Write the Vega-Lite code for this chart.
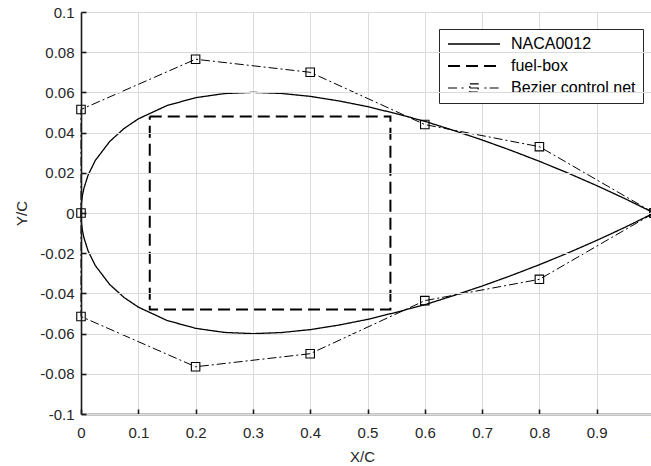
{
  "$schema": "https://vega.github.io/schema/vega-lite/v6.json",
  "autosize": {"type": "none"},
  "padding": {"left": 81, "top": 12, "right": 0, "bottom": 52},
  "width": 573,
  "height": 402,
  "background": "white",
  "config": {
    "view": {"stroke": null},
    "font": "Liberation Sans",
    "axis": {
      "labelFont": "Liberation Sans",
      "titleFont": "Liberation Sans",
      "labelFontSize": 15,
      "titleFontSize": 15,
      "titleFontWeight": "normal",
      "labelColor": "#262626",
      "titleColor": "#262626",
      "domainColor": "#1a1a1a",
      "tickColor": "#1a1a1a",
      "gridColor": "#dbdbdb",
      "gridWidth": 1,
      "domainWidth": 1.6,
      "tickWidth": 1.6,
      "tickSize": -5,
      "labelPadding": 12,
      "labelFlush": false
    },
    "legend": {"labelFont": "Liberation Sans"}
  },
  "data": {
    "values": [
      {"s": "NACA0012", "i": 0, "x": 1.0, "y": 0.0},
      {"s": "NACA0012", "i": 1, "x": 0.95, "y": 0.00704},
      {"s": "NACA0012", "i": 2, "x": 0.9, "y": 0.01364},
      {"s": "NACA0012", "i": 3, "x": 0.85, "y": 0.01987},
      {"s": "NACA0012", "i": 4, "x": 0.8, "y": 0.02572},
      {"s": "NACA0012", "i": 5, "x": 0.75, "y": 0.0312},
      {"s": "NACA0012", "i": 6, "x": 0.7, "y": 0.03634},
      {"s": "NACA0012", "i": 7, "x": 0.65, "y": 0.04111},
      {"s": "NACA0012", "i": 8, "x": 0.6, "y": 0.04563},
      {"s": "NACA0012", "i": 9, "x": 0.55, "y": 0.04941},
      {"s": "NACA0012", "i": 10, "x": 0.5, "y": 0.05294},
      {"s": "NACA0012", "i": 11, "x": 0.45, "y": 0.05576},
      {"s": "NACA0012", "i": 12, "x": 0.4, "y": 0.05803},
      {"s": "NACA0012", "i": 13, "x": 0.35, "y": 0.05947},
      {"s": "NACA0012", "i": 14, "x": 0.3, "y": 0.06002},
      {"s": "NACA0012", "i": 15, "x": 0.25, "y": 0.05941},
      {"s": "NACA0012", "i": 16, "x": 0.2, "y": 0.05737},
      {"s": "NACA0012", "i": 17, "x": 0.15, "y": 0.05345},
      {"s": "NACA0012", "i": 18, "x": 0.1, "y": 0.04683},
      {"s": "NACA0012", "i": 19, "x": 0.075, "y": 0.042},
      {"s": "NACA0012", "i": 20, "x": 0.05, "y": 0.03555},
      {"s": "NACA0012", "i": 21, "x": 0.025, "y": 0.02615},
      {"s": "NACA0012", "i": 22, "x": 0.0125, "y": 0.01894},
      {"s": "NACA0012", "i": 23, "x": 0.005, "y": 0.01221},
      {"s": "NACA0012", "i": 24, "x": 0.0025, "y": 0.00872},
      {"s": "NACA0012", "i": 25, "x": 0.001, "y": 0.00556},
      {"s": "NACA0012", "i": 26, "x": 0.0005, "y": 0.00395},
      {"s": "NACA0012", "i": 27, "x": 0.0001, "y": 0.00178},
      {"s": "NACA0012", "i": 28, "x": 0.0, "y": 0.0},
      {"s": "NACA0012", "i": 29, "x": 0.0001, "y": -0.00178},
      {"s": "NACA0012", "i": 30, "x": 0.0005, "y": -0.00395},
      {"s": "NACA0012", "i": 31, "x": 0.001, "y": -0.00556},
      {"s": "NACA0012", "i": 32, "x": 0.0025, "y": -0.00872},
      {"s": "NACA0012", "i": 33, "x": 0.005, "y": -0.01221},
      {"s": "NACA0012", "i": 34, "x": 0.0125, "y": -0.01894},
      {"s": "NACA0012", "i": 35, "x": 0.025, "y": -0.02615},
      {"s": "NACA0012", "i": 36, "x": 0.05, "y": -0.03555},
      {"s": "NACA0012", "i": 37, "x": 0.075, "y": -0.042},
      {"s": "NACA0012", "i": 38, "x": 0.1, "y": -0.04683},
      {"s": "NACA0012", "i": 39, "x": 0.15, "y": -0.05345},
      {"s": "NACA0012", "i": 40, "x": 0.2, "y": -0.05737},
      {"s": "NACA0012", "i": 41, "x": 0.25, "y": -0.05941},
      {"s": "NACA0012", "i": 42, "x": 0.3, "y": -0.06002},
      {"s": "NACA0012", "i": 43, "x": 0.35, "y": -0.05947},
      {"s": "NACA0012", "i": 44, "x": 0.4, "y": -0.05803},
      {"s": "NACA0012", "i": 45, "x": 0.45, "y": -0.05576},
      {"s": "NACA0012", "i": 46, "x": 0.5, "y": -0.05294},
      {"s": "NACA0012", "i": 47, "x": 0.55, "y": -0.04941},
      {"s": "NACA0012", "i": 48, "x": 0.6, "y": -0.04563},
      {"s": "NACA0012", "i": 49, "x": 0.65, "y": -0.04111},
      {"s": "NACA0012", "i": 50, "x": 0.7, "y": -0.03634},
      {"s": "NACA0012", "i": 51, "x": 0.75, "y": -0.0312},
      {"s": "NACA0012", "i": 52, "x": 0.8, "y": -0.02572},
      {"s": "NACA0012", "i": 53, "x": 0.85, "y": -0.01987},
      {"s": "NACA0012", "i": 54, "x": 0.9, "y": -0.01364},
      {"s": "NACA0012", "i": 55, "x": 0.95, "y": -0.00704},
      {"s": "NACA0012", "i": 56, "x": 1.0, "y": 0.0},
      {"s": "fuel-box", "i": 0, "x": 0.12, "y": 0.048},
      {"s": "fuel-box", "i": 1, "x": 0.54, "y": 0.048},
      {"s": "fuel-box", "i": 2, "x": 0.54, "y": -0.048},
      {"s": "fuel-box", "i": 3, "x": 0.12, "y": -0.048},
      {"s": "fuel-box", "i": 4, "x": 0.12, "y": 0.048},
      {"s": "Bezier control net", "i": 0, "x": 1.0, "y": 0.0},
      {"s": "Bezier control net", "i": 1, "x": 0.8, "y": 0.033},
      {"s": "Bezier control net", "i": 2, "x": 0.6, "y": 0.044},
      {"s": "Bezier control net", "i": 3, "x": 0.4, "y": 0.07},
      {"s": "Bezier control net", "i": 4, "x": 0.2, "y": 0.0765},
      {"s": "Bezier control net", "i": 5, "x": 0.0, "y": 0.0515},
      {"s": "Bezier control net", "i": 6, "x": 0.0, "y": 0.0},
      {"s": "Bezier control net", "i": 7, "x": 0.0, "y": -0.0515},
      {"s": "Bezier control net", "i": 8, "x": 0.2, "y": -0.0765},
      {"s": "Bezier control net", "i": 9, "x": 0.4, "y": -0.07},
      {"s": "Bezier control net", "i": 10, "x": 0.6, "y": -0.0436},
      {"s": "Bezier control net", "i": 11, "x": 0.8, "y": -0.033},
      {"s": "Bezier control net", "i": 12, "x": 1.0, "y": 0.0}
    ]
  },
  "encoding": {
    "x": {
      "field": "x", "type": "quantitative",
      "scale": {"domain": [0, 1], "nice": false, "zero": false},
      "axis": {
        "title": "X/C",
        "values": [0, 0.1, 0.2, 0.3, 0.4, 0.5, 0.6, 0.7, 0.8, 0.9, 1],
        "labelExpr": "'' + datum.value",
        "labelPadding": 16,
        "titlePadding": 9,
        "titleX": 281
      }
    },
    "y": {
      "field": "y", "type": "quantitative",
      "scale": {"domain": [-0.1, 0.1], "nice": false, "zero": false},
      "axis": {
        "title": "Y/C",
        "values": [-0.1, -0.08, -0.06, -0.04, -0.02, 0, 0.02, 0.04, 0.06, 0.08, 0.1],
        "labelExpr": "'' + datum.value",
        "titlePadding": 10,
        "zindex": 1
      }
    },
    "order": {"field": "i", "type": "quantitative"}
  },
  "layer": [
    {
      "transform": [{"filter": "datum.s === 'NACA0012'"}],
      "mark": {"type": "line", "color": "black", "strokeWidth": 1.3, "interpolate": "linear"},
      "encoding": {
        "strokeDash": {
          "field": "s", "type": "nominal",
          "scale": {"domain": ["NACA0012", "fuel-box", "Bezier control net"], "range": [[1, 0], [12, 6], [9, 3, 2, 3]]},
          "legend": {
            "title": null,
            "orient": "none",
            "legendX": 358,
            "legendY": 17,
            "fillColor": "white",
            "strokeColor": "#262626",
            "padding": 7,
            "symbolSize": 2704,
            "symbolType": "stroke",
            "symbolOffset": 20,
            "symbolStrokeColor": "black",
            "labelFontSize": 16,
            "labelColor": "black",
            "labelOffset": 29,
            "clipHeight": 16,
            "rowPadding": 6,
            "encode": {
              "symbols": {
                "update": {
                  "size": {"value": 2704},
                  "shape": {"signal": "datum.value === 'Bezier control net' ? 'M-1,0H-0.6M-0.48,0H-0.4M0.4,0H0.48M0.6,0H1M-0.16,-0.16H0.16V0.16H-0.16ZM-0.16,0H0.16' : 'stroke'"},
                  "strokeDash": {"signal": "datum.value === 'fuel-box' ? [13, 6] : [1, 0]"},
                  "strokeWidth": {"signal": "datum.value === 'fuel-box' ? 2 : datum.value === 'NACA0012' ? 1.6 : 1.2"},
                  "stroke": {"value": "black"}
                }
              }
            }
          }
        }
      }
    },
    {
      "transform": [{"filter": "datum.s === 'fuel-box'"}],
      "mark": {"type": "line", "color": "black", "strokeWidth": 2},
      "encoding": {
        "strokeDash": {"field": "s", "type": "nominal"}
      }
    },
    {
      "transform": [{"filter": "datum.s === 'Bezier control net'"}],
      "mark": {"type": "line", "color": "black", "strokeWidth": 1},
      "encoding": {
        "strokeDash": {"field": "s", "type": "nominal"}
      }
    },
    {
      "transform": [{"filter": "datum.s === 'Bezier control net'"}],
      "mark": {"type": "point", "shape": "square", "filled": false, "color": "black", "size": 72, "strokeWidth": 1.1, "opacity": 1}
    }
  ]
}
